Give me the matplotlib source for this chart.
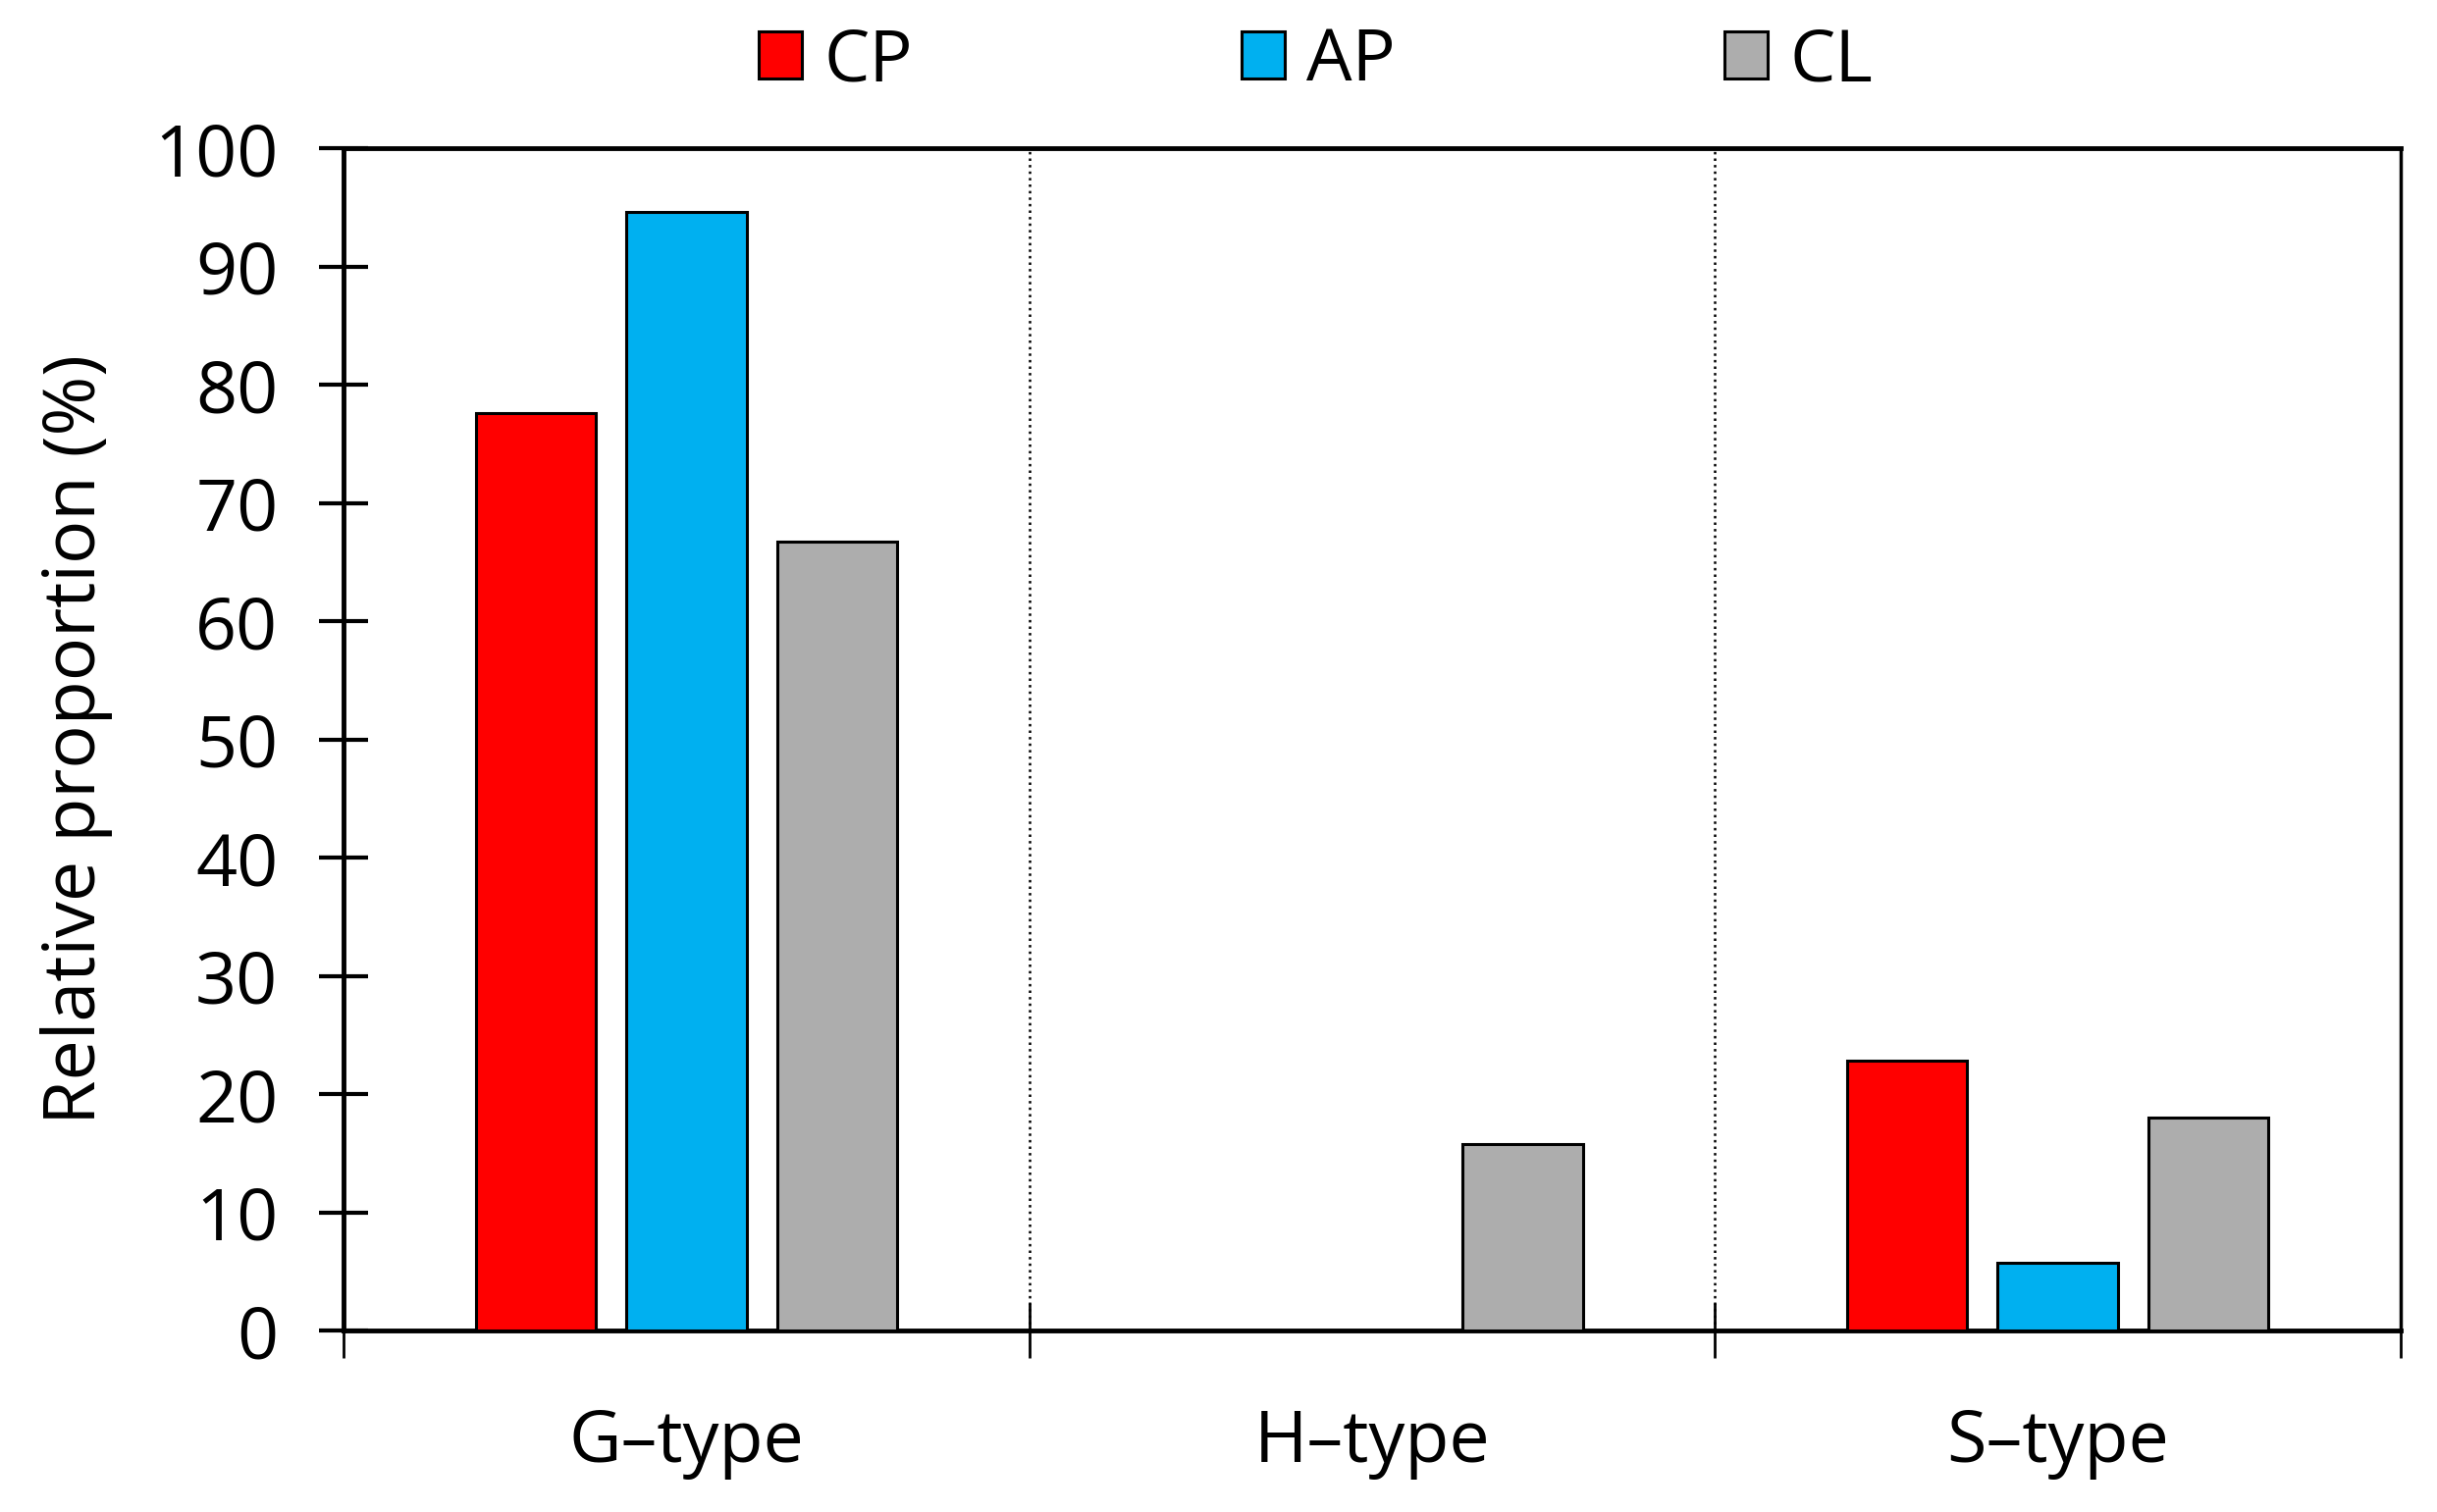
import matplotlib.pyplot as plt
import numpy as np

plt.rcParams['font.family'] = ['Open Sans', 'DejaVu Sans']

# data
groups = ['G\u2013type', 'H\u2013type', 'S\u2013type']
series = ['CP', 'AP', 'CL']
cp = [77.6, 0, 22.8]
ap = [94.6, 0, 5.7]
cl = [66.7, 15.8, 18.0]
colors = ['#ff0000', '#00b0f0', '#adadad']

fig = plt.figure(figsize=(24.83, 15.41), dpi=100)
ax = fig.add_axes([0.141, 0.120, 0.844, 0.782])

centers = np.arange(len(groups)) + 0.5
width = 0.175
step = 0.22
for i, (vals, name) in enumerate(zip([cp, ap, cl], series)):
    ax.bar(centers + (i - 1) * step, vals, width=width, color=colors[i],
           edgecolor='black', linewidth=2.2, label=name, zorder=3)

# dotted separators between groups
for b in range(1, len(groups)):
    ax.axvline(b, color='black', linestyle=':', linewidth=1.8, zorder=1)

ax.set_xlim(0, len(groups))
ax.set_ylim(0, 100)
ax.set_yticks(np.arange(0, 101, 10))
ax.set_xticks(np.arange(0, len(groups) + 1))
ax.set_xticklabels([])
ax.set_xticks(centers, minor=True)
ax.set_xticklabels(groups, minor=True)

ax.tick_params(axis='y', direction='inout', length=36, width=3, labelsize=53, pad=30)
ax.tick_params(axis='x', which='major', direction='inout', length=40, width=2)
ax.tick_params(axis='x', which='minor', length=0, labelsize=53, pad=56)
for s in ax.spines.values():
    s.set_linewidth(3.5)
ax.spines['right'].set_linewidth(2.5)

ax.set_ylabel('Relative proportion (%)', fontsize=53, labelpad=30)

fig.legend(loc='upper center', bbox_to_anchor=(0.540, 1.026), ncol=3,
           frameon=False, fontsize=53, handlelength=0.6, handleheight=0.62,
           handletextpad=0.3, columnspacing=4.55)

fig.savefig('out.png', dpi=100)
